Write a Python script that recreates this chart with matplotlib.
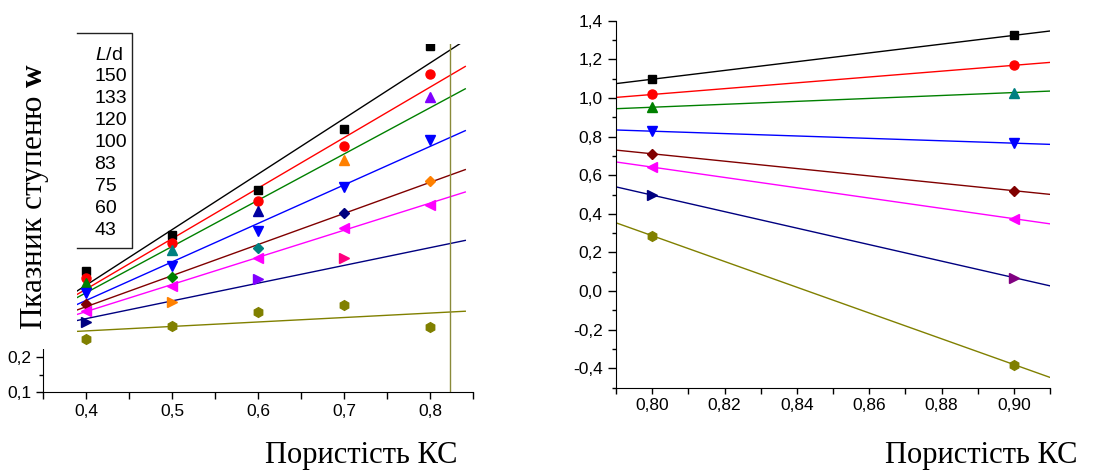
import numpy as np
import matplotlib
matplotlib.use('Agg')
import matplotlib.pyplot as plt
from matplotlib.ticker import MultipleLocator, FuncFormatter
from matplotlib.patches import Rectangle
from matplotlib.lines import Line2D

plt.rcParams['font.family'] = ['Liberation Sans', 'DejaVu Sans']
plt.rcParams['mathtext.fontset'] = 'custom'
plt.rcParams['mathtext.it'] = 'Liberation Sans:italic'
plt.rcParams['mathtext.bf'] = 'Liberation Serif:bold'

# ---- data ----
ld = ['150', '133', '120', '100', '83', '75', '60', '43']
x_left = [0.4, 0.5, 0.6, 0.7, 0.8]
w_left = [
    [0.450, 0.554, 0.685, 0.860, 1.100],
    [0.430, 0.532, 0.652, 0.812, 1.020],
    [0.414, 0.510, 0.624, 0.771, 0.952],
    [0.385, 0.465, 0.566, 0.692, 0.828],
    [0.354, 0.432, 0.517, 0.617, 0.711],
    [0.334, 0.407, 0.488, 0.575, 0.642],
    [0.303, 0.361, 0.426, 0.486, 0.497],
    [0.252, 0.292, 0.330, 0.351, 0.287],
]
x_right = [0.80, 0.90]
w_right = [
    [1.097, 1.324],
    [1.018, 1.169],
    [0.952, 1.028],
    [0.828, 0.766],
    [0.711, 0.520],
    [0.642, 0.375],
    [0.497, 0.070],
    [0.287, -0.380],
]
cutoff_x = 0.823  # vertical line in the left panel

line_colors = ['#000000', '#ff0000', '#008000', '#0000ff',
               '#800000', '#ff00ff', '#000080', '#808000']
markers = ['s', 'o', '^', 'v', 'D', '<', '>', 'h']
# per-point marker colours (None = point not drawn)
mc_left = [
    ['#000000'] * 5,
    ['#ff0000'] * 5,
    ['#008000', '#008080', '#0000a0', '#ff8000', '#8000ff'],
    ['#0000ff'] * 5,
    ['#800000', '#008000', '#008080', '#000080', '#ff8000'],
    ['#ff00ff'] * 5,
    ['#000080', '#ff8000', '#8000ff', '#ff0080', None],
    ['#808000'] * 5,
]
mc_right = [
    ['#000000'] * 2,
    ['#ff0000'] * 2,
    ['#008000', '#008080'],
    ['#0000ff'] * 2,
    ['#800000'] * 2,
    ['#ff00ff'] * 2,
    ['#000080', '#800080'],
    ['#808000'] * 2,
]

fig = plt.figure(figsize=(11, 4.7), dpi=100)
ax1 = fig.add_axes([43 / 1100, 78 / 470, 430 / 1100, 348 / 470])
ax2 = fig.add_axes([616 / 1100, 82.3 / 470, 434 / 1100, 367 / 470])

comma1 = FuncFormatter(lambda v, p: f'{v:.1f}'.replace('.', ','))
comma2 = FuncFormatter(lambda v, p: f'{v:.2f}'.replace('.', ','))
# upper labels of the left axis sit under the white block anyway
comma_low = FuncFormatter(lambda v, p: f'{v:.1f}'.replace('.', ',') if v < 0.25 else '')

msize = {'s': 6, 'o': 6.5, '^': 7, 'v': 7, 'D': 5.5, '<': 7, '>': 7, 'h': 7}

# left panel: points + least-squares lines
xl = np.array(x_left)
xfit = np.array([0.389, 0.841])
for i in range(len(ld)):
    y = np.array(w_left[i])
    k, b = np.polyfit(xl, y, 1)
    ax1.plot(xfit, k * xfit + b, color=line_colors[i], lw=1.0, zorder=2)
    for xv, yv, c in zip(x_left, w_left[i], mc_left[i]):
        if c is None:
            continue
        ax1.plot(xv, yv, marker=markers[i], ms=msize[markers[i]], color=c,
                 mec=c, ls='none', zorder=3)
ax1.axvline(cutoff_x, color='#8a8a3a', lw=1.0, zorder=2)

ax1.set_xlim(0.35, 0.85)
ax1.set_ylim(0.1, 1.106)
ax1.xaxis.set_major_locator(MultipleLocator(0.1))
ax1.xaxis.set_minor_locator(MultipleLocator(0.05))
ax1.yaxis.set_major_locator(MultipleLocator(0.1))
ax1.yaxis.set_minor_locator(MultipleLocator(0.05))
ax1.xaxis.set_major_formatter(comma1)
ax1.yaxis.set_major_formatter(comma_low)
ax1.tick_params(which='both', direction='out', labelsize=12.5, width=1)
ax1.tick_params(axis='x', which='both', length=5)
ax1.tick_params(axis='y', which='major', length=5)
ax1.tick_params(axis='y', which='minor', length=3)
for s in ['top', 'right']:
    ax1.spines[s].set_visible(False)

# right panel: two points per series joined by a line
xr = np.array(x_right)
xfit2 = np.array([0.79, 0.91])
for i in range(len(ld)):
    y = np.array(w_right[i])
    k, b = np.polyfit(xr, y, 1)
    ax2.plot(xfit2, k * xfit2 + b, color=line_colors[i], lw=1.0, zorder=2)
    for xv, yv, c in zip(x_right, w_right[i], mc_right[i]):
        ax2.plot(xv, yv, marker=markers[i], ms=msize[markers[i]], color=c,
                 mec=c, ls='none', zorder=3)

ax2.set_xlim(0.79, 0.91)
ax2.set_ylim(-0.5, 1.4)
ax2.xaxis.set_major_locator(MultipleLocator(0.02))
ax2.xaxis.set_minor_locator(MultipleLocator(0.01))
ax2.yaxis.set_major_locator(MultipleLocator(0.2))
ax2.yaxis.set_minor_locator(MultipleLocator(0.1))
ax2.xaxis.set_major_formatter(comma2)
ax2.yaxis.set_major_formatter(comma1)
ax2.tick_params(which='both', direction='out', labelsize=12.5, width=1)
ax2.tick_params(axis='x', which='both', length=4)
ax2.tick_params(axis='y', which='major', length=6)
ax2.tick_params(axis='y', which='minor', length=3)
for s in ['top', 'right']:
    ax2.spines[s].set_visible(False)

# white block over the left of the first panel, with the y label on it
fig.patches.append(Rectangle((0, 1 - 349 / 470), 77 / 1100, 349 / 470,
                             transform=fig.transFigure, facecolor='white',
                             edgecolor='none', zorder=5))
fig.text(35 / 1100, 1 - 197 / 470, r'Пказник ступеню $\mathbf{w}$',
         rotation=90, ha='center', va='center', fontsize=22.5,
         family=['Liberation Serif', 'DejaVu Serif'], zorder=6)

# legend box (left edge hidden under the white block)
top, bot, xl0, xr0 = 1 - 33 / 470, 1 - 248 / 470, 77 / 1100, 131.5 / 1100
fig.lines.append(Line2D([xl0, xr0, xr0, xl0], [top, top, bot, bot],
                        transform=fig.transFigure, color='#222222', lw=1.0,
                        zorder=6))
fig.text(95 / 1100, 1 - 55 / 470, r'$L$/d', ha='left', va='center',
         fontsize=14, zorder=7)
for j, lab in enumerate(ld):
    fig.text(94.5 / 1100, 1 - (76.7 + 22 * j) / 470, lab, ha='left',
             va='center', fontsize=14, zorder=7)

fig.text(361 / 1100, 1 - 455 / 470, 'Пористість КС', ha='center',
         va='center', fontsize=22, family=['Liberation Serif', 'DejaVu Serif'])
fig.text(981 / 1100, 1 - 455 / 470, 'Пористість КС', ha='center',
         va='center', fontsize=22, family=['Liberation Serif', 'DejaVu Serif'])

fig.savefig('out.png', dpi=100)
